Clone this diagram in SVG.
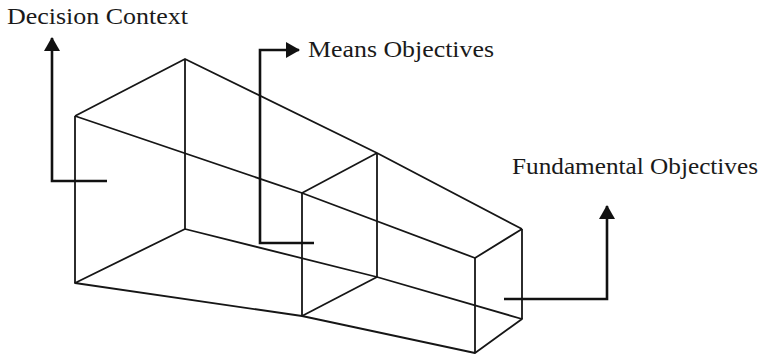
<svg xmlns="http://www.w3.org/2000/svg" width="770" height="355" viewBox="0 0 770 355">
<style>
.edge{fill:none;stroke:#161616;stroke-width:1.8;stroke-linejoin:round}
.conn{fill:none;stroke:#111;stroke-width:2.6}
.lbl{font-size:22.5px;fill:#1a1a1a}
</style>
<defs>
<marker id="ah" viewBox="0 0 14 16" markerWidth="14" markerHeight="16" refX="13" refY="8" orient="auto" markerUnits="userSpaceOnUse">
<path d="M0,0 L14,8 L0,16 z" fill="#111"/>
</marker>
</defs>
<rect width="770" height="355" fill="#fff"/>
<g id="frame">
<polyline class="edge" points="75,116 185,59 377,153 522,229"/>
<polyline class="edge" points="75,116 302,193 475,258 522,229"/>
<line class="edge" x1="302" y1="193" x2="377" y2="153"/>
<line class="edge" x1="75" y1="116" x2="75" y2="283"/>
<line class="edge" x1="185" y1="59" x2="185" y2="229"/>
<line class="edge" x1="302" y1="193" x2="302" y2="316"/>
<line class="edge" x1="377" y1="153" x2="377" y2="277"/>
<line class="edge" x1="475" y1="258" x2="475" y2="353"/>
<line class="edge" x1="522" y1="229" x2="522" y2="319"/>
<polyline class="edge" points="185,229 75,283 302,316 475,353 522,319 377,277 185,229"/>
<line class="edge" x1="302" y1="316" x2="377" y2="277"/>
</g>
<g id="connectors">
<polyline class="conn" points="107,181 52,181 52,38" marker-end="url(#ah)"/>
<polyline class="conn" points="314,243 260,243 260,50 299,50" marker-end="url(#ah)"/>
<polyline class="conn" points="504,299 607,299 607,206" marker-end="url(#ah)"/>
</g>
<g id="decision-context">
<text class="lbl" font-family="Liberation Serif, Times New Roman, serif" x="7" y="24" textLength="181" lengthAdjust="spacingAndGlyphs">Decision Context</text>
</g>
<g id="means-objectives">
<text class="lbl" font-family="Liberation Serif, Times New Roman, serif" x="308" y="57" textLength="186" lengthAdjust="spacingAndGlyphs">Means Objectives</text>
</g>
<g id="fundamental-objectives">
<text class="lbl" font-family="Liberation Serif, Times New Roman, serif" x="512" y="174" textLength="246" lengthAdjust="spacingAndGlyphs">Fundamental Objectives</text>
</g>
</svg>
